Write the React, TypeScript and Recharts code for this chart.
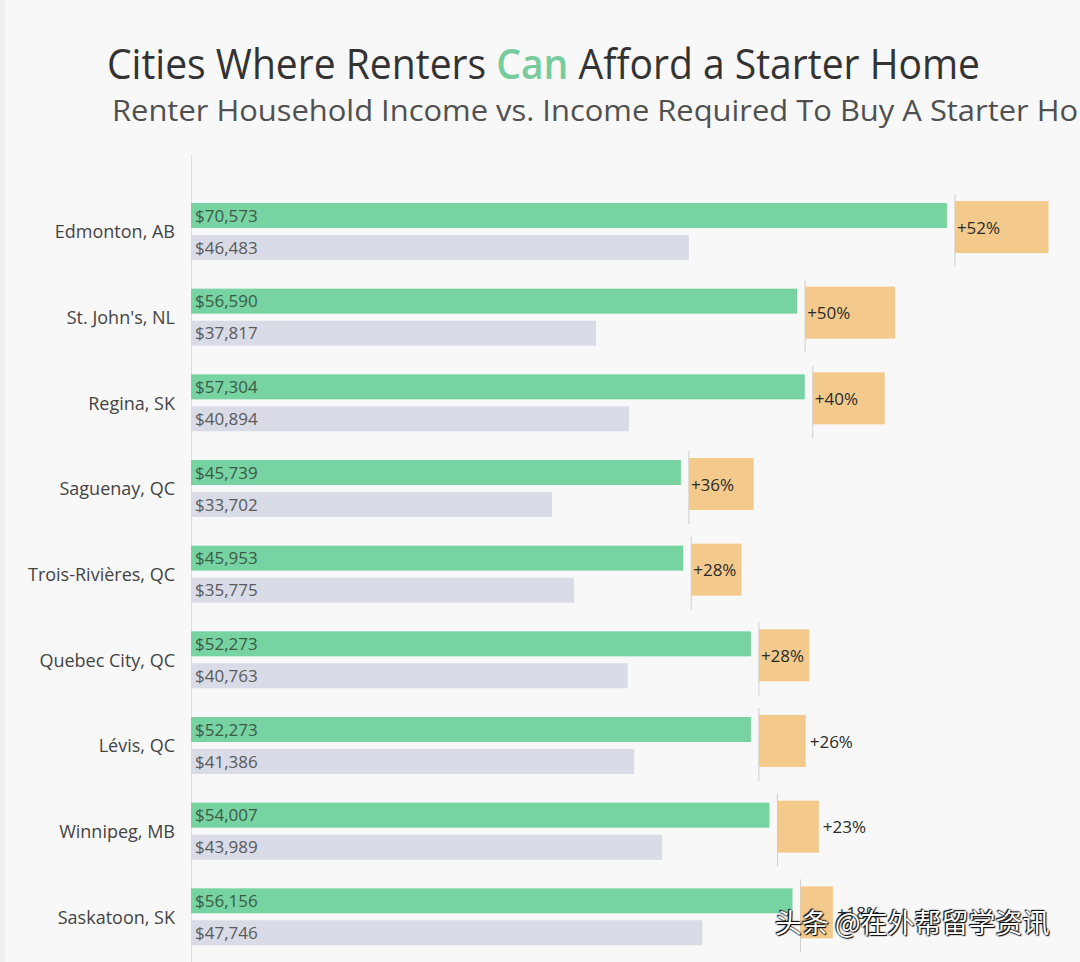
import React from "react";
import { BarChart, Bar, XAxis, YAxis, LabelList } from "recharts";

const cities = [
  "Edmonton, AB",
  "St. John's, NL",
  "Regina, SK",
  "Saguenay, QC",
  "Trois-Rivières, QC",
  "Quebec City, QC",
  "Lévis, QC",
  "Winnipeg, MB",
  "Saskatoon, SK",
];
const renterIncome = [70573, 56590, 57304, 45739, 45953, 52273, 52273, 54007, 56156];
const requiredIncome = [46483, 37817, 40894, 33702, 35775, 40763, 41386, 43989, 47746];
const gapPct = [52, 50, 40, 36, 28, 28, 26, 23, 18];

const data = cities.map((c, i) => ({
  city: c,
  renter: renterIncome[i],
  required: requiredIncome[i],
  pct: gapPct[i],
}));

const FONT = "'Open Sans', 'Noto Sans', sans-serif";
const GREEN = "#77d4a2";
const GREY = "#d9dbe6";
const ORANGE = "#f3c98c";

const fmt = (v: number) => "$" + v.toLocaleString("en-US");

const GreenShape = (props: any) => {
  const { x, y, width, height, payload } = props;
  const pct = payload.pct as number;
  const bx = x + width + 8;
  const bw = pct * 1.8;
  const by = y - 2;
  const bh = 52;
  const inside = pct >= 28;
  return (
    <g>
      <rect x={x} y={y} width={width} height={height} fill={GREEN} />
      <line x1={bx} x2={bx} y1={y - 9} y2={y + 64} stroke="#cfcfcf" strokeWidth={1} />
      <rect x={bx} y={by} width={bw} height={bh} fill={ORANGE} />
      <text
        x={inside ? bx + 2 : bx + bw + 4}
        y={by + bh / 2}
        dominantBaseline="central"
        fontFamily={FONT}
        fontSize={17}
        fill="#2b2b2b"
      >
        {"+" + pct + "%"}
      </text>
    </g>
  );
};

export default function App() {
  return (
    <div
      style={{
        position: "absolute",
        left: 0,
        top: 0,
        width: 1080,
        height: 962,
        background: "#f8f8f8",
        overflow: "hidden",
        fontFamily: FONT,
      }}
    >
      <div style={{ position: "absolute", left: 0, top: 0, width: 5, height: 962, background: "#efefef" }} />
      <svg width={1080} height={140} style={{ position: "absolute", left: 0, top: 0 }}>
        <text
          x={107}
          y={79}
          fontFamily={FONT}
          fontSize={42}
          fill="#333333"
          textLength={873}
          lengthAdjust="spacingAndGlyphs"
        >
          <tspan>Cities Where Renters </tspan>
          <tspan fill="#77cc9e" fontWeight={600}>Can</tspan>
          <tspan> Afford a Starter Home</tspan>
        </text>
        <text
          x={112}
          y={121}
          fontFamily={FONT}
          fontSize={30}
          fill="#505050"
          textLength={1012}
          lengthAdjust="spacingAndGlyphs"
        >
          Renter Household Income vs. Income Required To Buy A Starter Home
        </text>
      </svg>
      <div style={{ position: "absolute", left: 191, top: 155, width: 1, height: 807, background: "#dddddd" }} />
      <div style={{ position: "absolute", left: 0, top: 0 }}>
        <BarChart
          width={1080}
          height={962}
          data={data}
          layout="vertical"
          margin={{ top: 189, right: 0, bottom: 2, left: 0 }}
          barSize={25}
          barGap={7}
        >
          <XAxis type="number" domain={[0, 83000]} hide />
          <YAxis
            type="category"
            dataKey="city"
            width={191}
            axisLine={false}
            tickLine={false}
            tickSize={6}
            tickMargin={10}
            tick={{ fontFamily: FONT, fontSize: 18, fill: "#444444" }}
          />
          <Bar dataKey="renter" fill={GREEN} shape={GreenShape} isAnimationActive={false}>
            <LabelList
              dataKey="renter"
              position="insideLeft"
              offset={4}
              formatter={(v: any) => fmt(Number(v))}
              style={{ fontFamily: FONT, fontSize: 17, fill: "#3b5a46" }}
            />
          </Bar>
          <Bar dataKey="required" fill={GREY} isAnimationActive={false}>
            <LabelList
              dataKey="required"
              position="insideLeft"
              offset={4}
              formatter={(v: any) => fmt(Number(v))}
              style={{ fontFamily: FONT, fontSize: 17, fill: "#5a5a5a" }}
            />
          </Bar>
        </BarChart>
      </div>
      <div
        style={{
          position: "absolute",
          left: 775,
          top: 904,
          fontFamily: "'Noto Sans CJK SC', sans-serif",
          fontSize: 27,
          lineHeight: "36px",
          color: "#ffffff",
          textShadow: "0 0 2px #000, 1px 1px 1px #000, -1px -1px 1px #000",
          whiteSpace: "nowrap",
        }}
      >
        头条 @在外帮留学资讯
      </div>
    </div>
  );
}
